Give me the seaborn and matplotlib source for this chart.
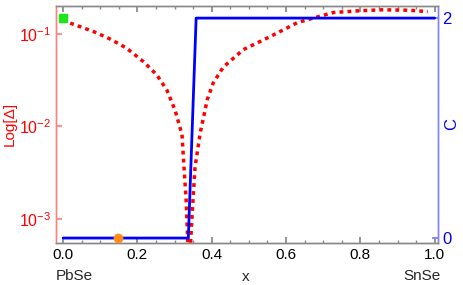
import numpy as np
import pandas as pd
import matplotlib
matplotlib.use("Agg")
import matplotlib.pyplot as plt
import matplotlib.ticker as mticker
import seaborn as sns

# ---- data ----
delta_x = [0.019, 0.082, 0.127, 0.171, 0.216, 0.252, 0.279, 0.301, 0.320, 0.324, 0.331, 0.337,
           0.341, 0.348, 0.355, 0.369, 0.388, 0.404, 0.431, 0.485, 0.557, 0.630, 0.665, 0.727,
           0.80, 0.861, 0.93, 0.982]
delta_y = [0.1306, 0.1059, 0.0877, 0.0700, 0.0501, 0.0361, 0.0248, 0.0151, 0.00813, 0.00437, 0.00162, 0.0004,
           0.0004, 0.00126, 0.00363, 0.00851, 0.0195, 0.0295, 0.0437, 0.0676, 0.0933, 0.132, 0.145, 0.170,
           0.178, 0.182, 0.180, 0.174]
c_x = [0.0, 0.337, 0.358, 1.0]
c_y = [0, 0, 2, 2]
green_pt = (0.0, 0.148)
orange_pt = (0.148, 0.0)
x_ticks = [0.0, 0.2, 0.4, 0.6, 0.8, 1.0]
end_labels = ("PbSe", "SnSe")

sns.set_theme(style="white")
plt.rcParams['font.family'] = ['Liberation Sans', 'DejaVu Sans']
plt.rcParams['mathtext.default'] = 'regular'

fig = plt.figure(figsize=(4.63, 2.85), dpi=100)
ax = fig.add_axes([55.7/463, 42/285, (438-55.7)/463, (243-6)/285])
ax2 = ax.twinx()

red = (1.0, 0.0, 0.0)
blue = (0.0, 0.0, 1.0)

df_d = pd.DataFrame({"x": delta_x, "d": delta_y})
sns.lineplot(data=df_d, x="x", y="d", ax=ax, color=red, lw=2.5, sort=False,
             estimator=None, legend=False)
ax.lines[-1].set_dashes((1.1, 1.2))
ax.set_yscale('log')
ax.set_ylim(5.5e-4, 0.2)
ax.scatter([green_pt[0]], [green_pt[1]], marker='s', s=40, color=(0.1, 0.9, 0.1), zorder=5, clip_on=False)

df_c = pd.DataFrame({"x": c_x, "c": c_y})
sns.lineplot(data=df_c, x="x", y="c", ax=ax2, color=blue, lw=2, sort=False,
             estimator=None, legend=False)
ax2.scatter([orange_pt[0]], [orange_pt[1]], marker='o', s=36, color=(1.0, 0.55, 0.1), zorder=5, clip_on=False)
ax2.set_ylim(-0.045, 2.11)
ax.set_xlim(-0.02, 1.009)

# spines
for a in (ax, ax2):
    for s in a.spines.values():
        s.set_linewidth(1)
    a.spines['top'].set_color('#888888')
    a.spines['bottom'].set_color('#888888')
    a.spines['left'].set_color('#ff8080')
    a.spines['right'].set_color('#8080ff')

ax.set_xticks(x_ticks)
ax.xaxis.set_major_formatter(mticker.FormatStrFormatter('%.1f'))
ax.xaxis.set_minor_locator(mticker.MultipleLocator(0.05))
ax.tick_params(axis='x', which='both', direction='in', top=True, bottom=True, colors='#888888',
               labelcolor='black', labelsize=11)
ax.tick_params(axis='x', which='major', length=4)
ax.tick_params(axis='x', which='minor', length=2)

ax.yaxis.set_major_locator(mticker.LogLocator(base=10, numticks=10))
ax.yaxis.set_major_formatter(mticker.LogFormatterMathtext())
ax.yaxis.set_minor_locator(mticker.NullLocator())
ax.tick_params(axis='y', which='major', direction='in', left=True, right=False, length=4,
               colors='#ff8080', labelcolor=red, labelsize=11.5, pad=3)

ax2.set_yticks([0, 2])
ax2.tick_params(axis='y', which='major', direction='in', right=True, left=False, length=4,
                colors='#8080ff', labelcolor=blue, labelsize=12, pad=3)

ax.set_xlabel("")
ax.set_ylabel("")
ax2.set_ylabel("")
fig.text(246/463, 1 - 277/285, "x", fontsize=11, ha='center', va='center')
fig.text(10/463, 1 - 124/285, "Log[Δ]", color=red, fontsize=11, rotation=90, ha='center', va='center')
fig.text(452/463, 1 - 124/285, "C", color=blue, fontsize=12, rotation=90, ha='center', va='center')

fig.text(74/463, 1 - 276/285, end_labels[0], ha='center', va='center', fontsize=11)
fig.text(422/463, 1 - 276/285, end_labels[1], ha='center', va='center', fontsize=11)

fig.savefig("out.png", dpi=100)
